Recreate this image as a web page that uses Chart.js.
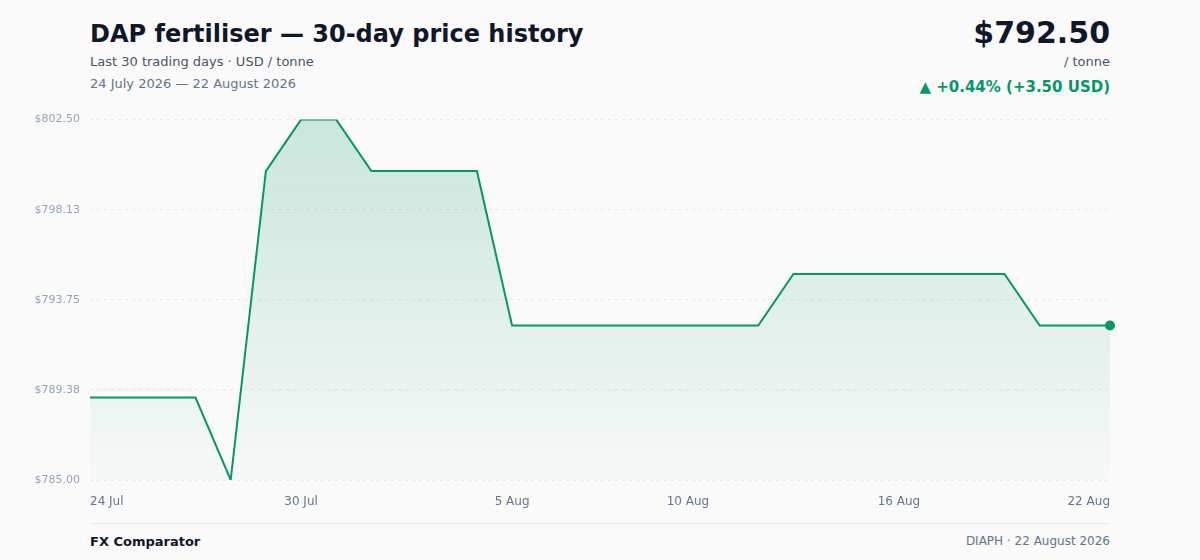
<!DOCTYPE html>
<html>
<head>
<meta charset="utf-8">
<script src="https://cdn.jsdelivr.net/npm/chart.js@4/dist/chart.umd.min.js"></script>
<style>
  html, body { margin: 0; padding: 0; background: #fafafa; }
  body { width: 1200px; height: 560px; position: relative; overflow: hidden; font-family: "DejaVu Sans", sans-serif; }
  .title { position: absolute; left: 90px; top: 20px; font-size: 24px; font-weight: bold; color: #0f172a; }
  .sub { position: absolute; left: 90px; top: 54px; font-size: 13px; color: #475569; }
  .dates { position: absolute; left: 90px; top: 76px; font-size: 13px; color: #64748b; }
  .price { position: absolute; right: 90px; top: 15px; font-size: 30px; font-weight: bold; color: #0f172a; }
  .unit { position: absolute; right: 90px; top: 54px; font-size: 13px; color: #475569; }
  .change { position: absolute; right: 90px; top: 78px; font-size: 15px; font-weight: bold; color: #059669; }
  .wrap { position: absolute; left: 0; top: 103px; width: 1200px; height: 412px; }
  .foot { position: absolute; left: 90px; width: 1020px; top: 523px; border-top: 1px solid #e5e7eb; }
  .brand { position: absolute; left: 90px; top: 534px; font-size: 13px; font-weight: bold; color: #0f172a; }
  .credit { position: absolute; right: 90px; top: 534px; font-size: 12px; color: #64748b; }
</style>
</head>
<body>
<div class="title">DAP fertiliser — 30-day price history</div>
<div class="sub">Last 30 trading days · USD / tonne</div>
<div class="dates">24 July 2026 — 22 August 2026</div>
<div class="price">$792.50</div>
<div class="unit">/ tonne</div>
<div class="change">▲ +0.44% (+3.50 USD)</div>
<div class="wrap"><canvas id="priceChart"></canvas></div>
<div class="foot"></div>
<div class="brand">FX Comparator</div>
<div class="credit">DIAPH · 22 August 2026</div>
<script>
const days = [
  "24 Jul", "25 Jul", "26 Jul", "27 Jul", "28 Jul", "29 Jul", "30 Jul", "31 Jul",
  "1 Aug", "2 Aug", "3 Aug", "4 Aug", "5 Aug", "6 Aug", "7 Aug", "8 Aug",
  "9 Aug", "10 Aug", "11 Aug", "12 Aug", "13 Aug", "14 Aug", "15 Aug", "16 Aug",
  "17 Aug", "18 Aug", "19 Aug", "20 Aug", "21 Aug", "22 Aug"
];
const prices = [
  789.00, 789.00, 789.00, 789.00, 785.00, 800.00, 802.50, 802.50,
  800.00, 800.00, 800.00, 800.00, 792.50, 792.50, 792.50, 792.50,
  792.50, 792.50, 792.50, 792.50, 795.00, 795.00, 795.00, 795.00,
  795.00, 795.00, 795.00, 792.50, 792.50, 792.50
];
const shownDays = ["24 Jul", "30 Jul", "5 Aug", "10 Aug", "16 Aug", "22 Aug"];
const priceTicks = [785.00, 789.375, 793.75, 798.125, 802.50];

const green = "#059669";
const lastIdx = prices.length - 1;
const canvas = document.getElementById("priceChart");

new Chart(canvas, {
  type: "line",
  data: {
    labels: days,
    datasets: [{
      data: prices,
      borderColor: green,
      borderWidth: 2,
      tension: 0,
      fill: "start",
      backgroundColor: (ctx) => {
        const area = ctx.chart.chartArea;
        if (!area) return "rgba(5,150,105,0.15)";
        const g = ctx.chart.ctx.createLinearGradient(0, area.top, 0, area.bottom);
        g.addColorStop(0, "rgba(5,150,105,0.20)");
        g.addColorStop(1, "rgba(5,150,105,0.01)");
        return g;
      },
      pointRadius: (ctx) => ctx.dataIndex === lastIdx ? 5 : 0,
      pointBackgroundColor: green,
      pointBorderWidth: 0,
      pointHoverRadius: 0
    }]
  },
  options: {
    responsive: true,
    maintainAspectRatio: false,
    animation: false,
    layout: { padding: { top: 3, right: 90, left: 0, bottom: 0 } },
    plugins: { legend: { display: false }, tooltip: { enabled: false } },
    scales: {
      x: {
        grid: { display: false },
        border: { display: false },
        afterFit: (scale) => { scale.height = 35; },
        ticks: {
          autoSkip: false,
          maxRotation: 0,
          align: "inner",
          padding: 7,
          color: "#64748b",
          font: { family: "DejaVu Sans", size: 12 },
          callback: function (value, index) {
            const label = days[index];
            return shownDays.includes(label) ? label : "";
          }
        }
      },
      y: {
        min: 785,
        max: 802.5,
        afterFit: (scale) => { scale.width = 90; },
        afterBuildTicks: (scale) => { scale.ticks = priceTicks.map(v => ({ value: v })); },
        grid: { color: "#e5e7eb", drawTicks: false, lineWidth: 1 },
        border: { display: false, dash: [3, 4] },
        ticks: {
          padding: 10,
          color: "#94a3b8",
          font: { family: "DejaVu Sans", size: 11 },
          callback: (v) => "$" + Number(v).toFixed(2)
        }
      }
    }
  }
});
</script>
</body>
</html>
